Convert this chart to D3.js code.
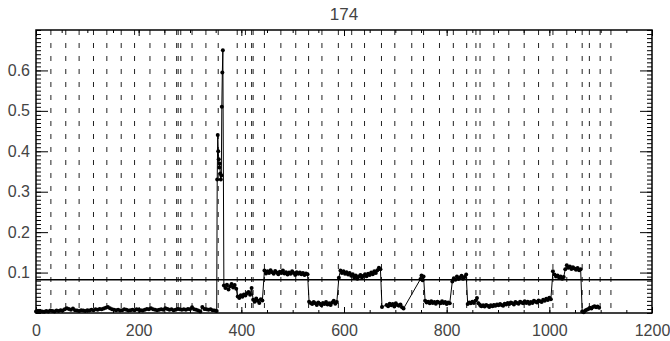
<!DOCTYPE html>
<html>
<head>
<meta charset="utf-8">
<script src="https://cdn.jsdelivr.net/npm/d3@7"></script>
<style>
  body { margin: 0; background: #fff; }
  svg text { font-family: "Liberation Sans", Arial, sans-serif; fill: #444; }
</style>
</head>
<body>
<svg id="chart" width="670" height="341"></svg>
<script>
// tick labels and reference marks
const titleText = "174";
const xTicks = [0, 200, 400, 600, 800, 1000, 1200];
const yTicks = [0.1, 0.2, 0.3, 0.4, 0.5, 0.6];
const thresholdY = 0.082;
const dashedX = [29, 58, 84, 112, 138, 166, 192, 222, 251, 274, 277, 282, 304, 331, 355,
  392, 408, 420, 423, 445, 477, 506, 531, 557, 589, 615, 640, 673, 699, 732, 755, 786,
  813, 839, 857, 865, 892, 921, 951, 979, 1007, 1034, 1064, 1078, 1099, 1120];

// sampled segments: [first x, x step, values]
const baseVals = [0.004, 0.003, 0.005, 0.004, 0.003, 0.005, 0.004, 0.006,
  0.005, 0.004, 0.006, 0.005, 0.007, 0.006, 0.009, 0.012,
  0.010, 0.008, 0.011, 0.007, 0.006, 0.005, 0.007, 0.006,
  0.005, 0.007, 0.006, 0.008, 0.007, 0.009, 0.008, 0.010,
  0.009, 0.011, 0.013, 0.015, 0.012, 0.009, 0.008, 0.007,
  0.008, 0.006, 0.007, 0.009, 0.008, 0.006, 0.007, 0.008,
  0.007, 0.009, 0.008, 0.007, 0.006, 0.008, 0.010, 0.009,
  0.012, 0.009, 0.008, 0.007, 0.008, 0.009, 0.008, 0.012,
  0.010, 0.008, 0.009, 0.007, 0.008, 0.010, 0.009, 0.008,
  0.009, 0.008, 0.010, 0.009, 0.014, 0.009, 0.008, 0.006,
  0.004, 0.015, 0.010, 0.009, 0.008, 0.009, 0.007, 0.006, 0.005];
const spikeX = [353, 354, 355, 356, 357, 358, 359, 360, 361, 362, 363, 364];
const spikeY = [0.33, 0.44, 0.40, 0.38, 0.36, 0.37, 0.345, 0.33, 0.34, 0.51, 0.595, 0.65];
const segC = [0.068, 0.062, 0.07, 0.058, 0.066, 0.072, 0.063, 0.069, 0.06];
const segD = [0.041, 0.037, 0.044, 0.04, 0.046, 0.043, 0.049, 0.052, 0.045, 0.062];
const segE = [0.033, 0.028, 0.036, 0.03, 0.025, 0.034, 0.031];
const segF = [0.105, 0.098, 0.103, 0.099, 0.106, 0.101, 0.097, 0.104, 0.1, 0.096,
  0.102, 0.099, 0.105, 0.098, 0.101, 0.095, 0.1, 0.097, 0.103, 0.099,
  0.094, 0.101, 0.097, 0.1, 0.096, 0.099, 0.094, 0.098, 0.096];
const segG = [0.028, 0.025, 0.022, 0.027, 0.024, 0.02, 0.026, 0.023, 0.019, 0.025,
  0.022, 0.027, 0.021, 0.024, 0.02, 0.026, 0.03, 0.023, 0.027];
const segH = [0.087, 0.105, 0.099, 0.103, 0.097, 0.101, 0.095, 0.099, 0.092, 0.096,
  0.088, 0.093, 0.085, 0.09, 0.094, 0.088, 0.092, 0.096, 0.091, 0.097,
  0.094, 0.1, 0.096, 0.103, 0.099, 0.106, 0.112, 0.108];
const lowX = [674, 683, 686, 689, 692, 695, 698, 701, 704, 707, 710, 713, 716, 749, 751, 753, 755];
const lowY = [0.015, 0.02, 0.017, 0.023, 0.019, 0.022, 0.016, 0.024, 0.02, 0.018, 0.021, 0.014, 0.011,
  0.084, 0.093, 0.081, 0.09];
const segJ = [0.03, 0.026, 0.028, 0.024, 0.029, 0.025, 0.027, 0.023, 0.028, 0.026,
  0.024, 0.029, 0.025, 0.027, 0.022, 0.026, 0.024];
const segK = [0.078, 0.086, 0.082, 0.09, 0.084, 0.088, 0.092, 0.085, 0.089, 0.095];
const segL = [0.022, 0.026, 0.024, 0.028, 0.025, 0.03, 0.037, 0.024, 0.02, 0.017,
  0.019, 0.016, 0.02, 0.018, 0.015, 0.019, 0.017, 0.02, 0.018, 0.021,
  0.019, 0.022, 0.02, 0.018, 0.023, 0.021, 0.025, 0.022, 0.026, 0.024,
  0.021, 0.027, 0.025, 0.023, 0.028, 0.026, 0.024, 0.029, 0.025, 0.028,
  0.023, 0.027, 0.025, 0.03, 0.028, 0.026, 0.031, 0.029, 0.027, 0.033,
  0.03, 0.035, 0.032, 0.038, 0.034];
const segM = [0.103, 0.095, 0.09, 0.093, 0.087, 0.09, 0.085, 0.089];
const segN = [0.108, 0.118, 0.112, 0.115, 0.109, 0.113, 0.11, 0.107, 0.111, 0.106, 0.108];
const segO = [0.004, 0.002, 0.006, 0.008, 0.01, 0.013, 0.011, 0.015, 0.017, 0.014, 0.016, 0.013];

function sampled(x0, step, vals) {
  return vals.map((v, i) => ({ x: x0 + i * step, y: v }));
}
function paired(xs, ys) {
  return xs.map((x, i) => ({ x: x, y: ys[i] }));
}

const points = [].concat(
  sampled(0, 4, baseVals),
  paired(spikeX, spikeY),
  sampled(366, 3, segC),
  sampled(393, 3, segD),
  sampled(423, 3, segE),
  sampled(445, 3, segF),
  sampled(532, 3, segG),
  sampled(590, 3, segH),
  paired(lowX, lowY),
  sampled(758, 3, segJ),
  sampled(811, 3, segK),
  sampled(841, 3, segL),
  sampled(1007, 3, segM),
  sampled(1031, 3, segN),
  sampled(1064, 3, segO)
);

var margin = { top: 30, right: 18, bottom: 28, left: 36 },
  width = 670 - margin.left - margin.right,
  height = 341 - margin.top - margin.bottom;

let svg = d3.select("svg#chart");
let g = svg.append("g").attr("transform", "translate(" + margin.left + "," + margin.top + ")");

let xScale = d3.scaleLinear().domain([0, 1200]).range([0, width]);
let yScale = d3.scaleLinear().domain([0, 0.7]).range([height, 0]);

svg.append("text")
  .attr("x", margin.left + width / 2)
  .attr("y", 20)
  .attr("text-anchor", "middle")
  .style("font-size", "17px")
  .text(titleText);

// dashed markers
g.selectAll("line.dash")
  .data(dashedX)
  .enter().append("line")
  .attr("class", "dash")
  .attr("x1", d => xScale(d)).attr("x2", d => xScale(d))
  .attr("y1", 0).attr("y2", height)
  .attr("stroke", "#222")
  .attr("stroke-width", 1)
  .attr("stroke-dasharray", "5,8");

// threshold line
g.append("line")
  .attr("x1", 0).attr("x2", width)
  .attr("y1", yScale(thresholdY)).attr("y2", yScale(thresholdY))
  .attr("stroke", "#000").attr("stroke-width", 1.5);

// series
let line = d3.line().x(d => xScale(d.x)).y(d => yScale(d.y));
g.append("path")
  .datum(points)
  .attr("d", line)
  .attr("fill", "none")
  .attr("stroke", "#000")
  .attr("stroke-width", 1);

g.selectAll("circle")
  .data(points)
  .enter().append("circle")
  .attr("cx", d => xScale(d.x))
  .attr("cy", d => yScale(d.y))
  .attr("r", 2)
  .attr("fill", "#000");

// axes, ticks pointing inward
const xMinor = d3.range(0, 1201, 50);
const yMinor = d3.range(0, 0.7001, 0.01);

function styleAxis(sel) {
  sel.select(".domain").remove();
  sel.selectAll(".tick line").attr("stroke", "#000");
  sel.selectAll(".tick text").style("font-size", "16px").attr("fill", "#444");
}

g.append("g").attr("transform", "translate(0," + height + ")")
  .call(d3.axisBottom(xScale).tickValues(xMinor).tickSize(-3).tickFormat(""))
  .call(styleAxis);
g.append("g").attr("transform", "translate(0," + height + ")")
  .call(d3.axisBottom(xScale).tickValues(xTicks).tickSize(-6).tickPadding(12).tickFormat(d3.format("d")))
  .call(styleAxis);
g.append("g")
  .call(d3.axisTop(xScale).tickValues(xMinor).tickSize(-3).tickFormat(""))
  .call(styleAxis);
g.append("g")
  .call(d3.axisTop(xScale).tickValues(xTicks).tickSize(-6).tickFormat(""))
  .call(styleAxis);

g.append("g")
  .call(d3.axisLeft(yScale).tickValues(yMinor).tickSize(-5).tickFormat(""))
  .call(styleAxis);
g.append("g")
  .call(d3.axisLeft(yScale).tickValues(yTicks).tickSize(-12).tickPadding(6).tickFormat(d3.format(".1f")))
  .call(styleAxis);
g.append("g").attr("transform", "translate(" + width + ",0)")
  .call(d3.axisRight(yScale).tickValues(yMinor).tickSize(-5).tickFormat(""))
  .call(styleAxis);
g.append("g").attr("transform", "translate(" + width + ",0)")
  .call(d3.axisRight(yScale).tickValues(yTicks).tickSize(-12).tickFormat(""))
  .call(styleAxis);

g.append("rect")
  .attr("x", 0).attr("y", 0)
  .attr("width", width).attr("height", height)
  .attr("fill", "none")
  .attr("stroke", "#000")
  .attr("stroke-width", 1.5);
</script>
</body>
</html>
